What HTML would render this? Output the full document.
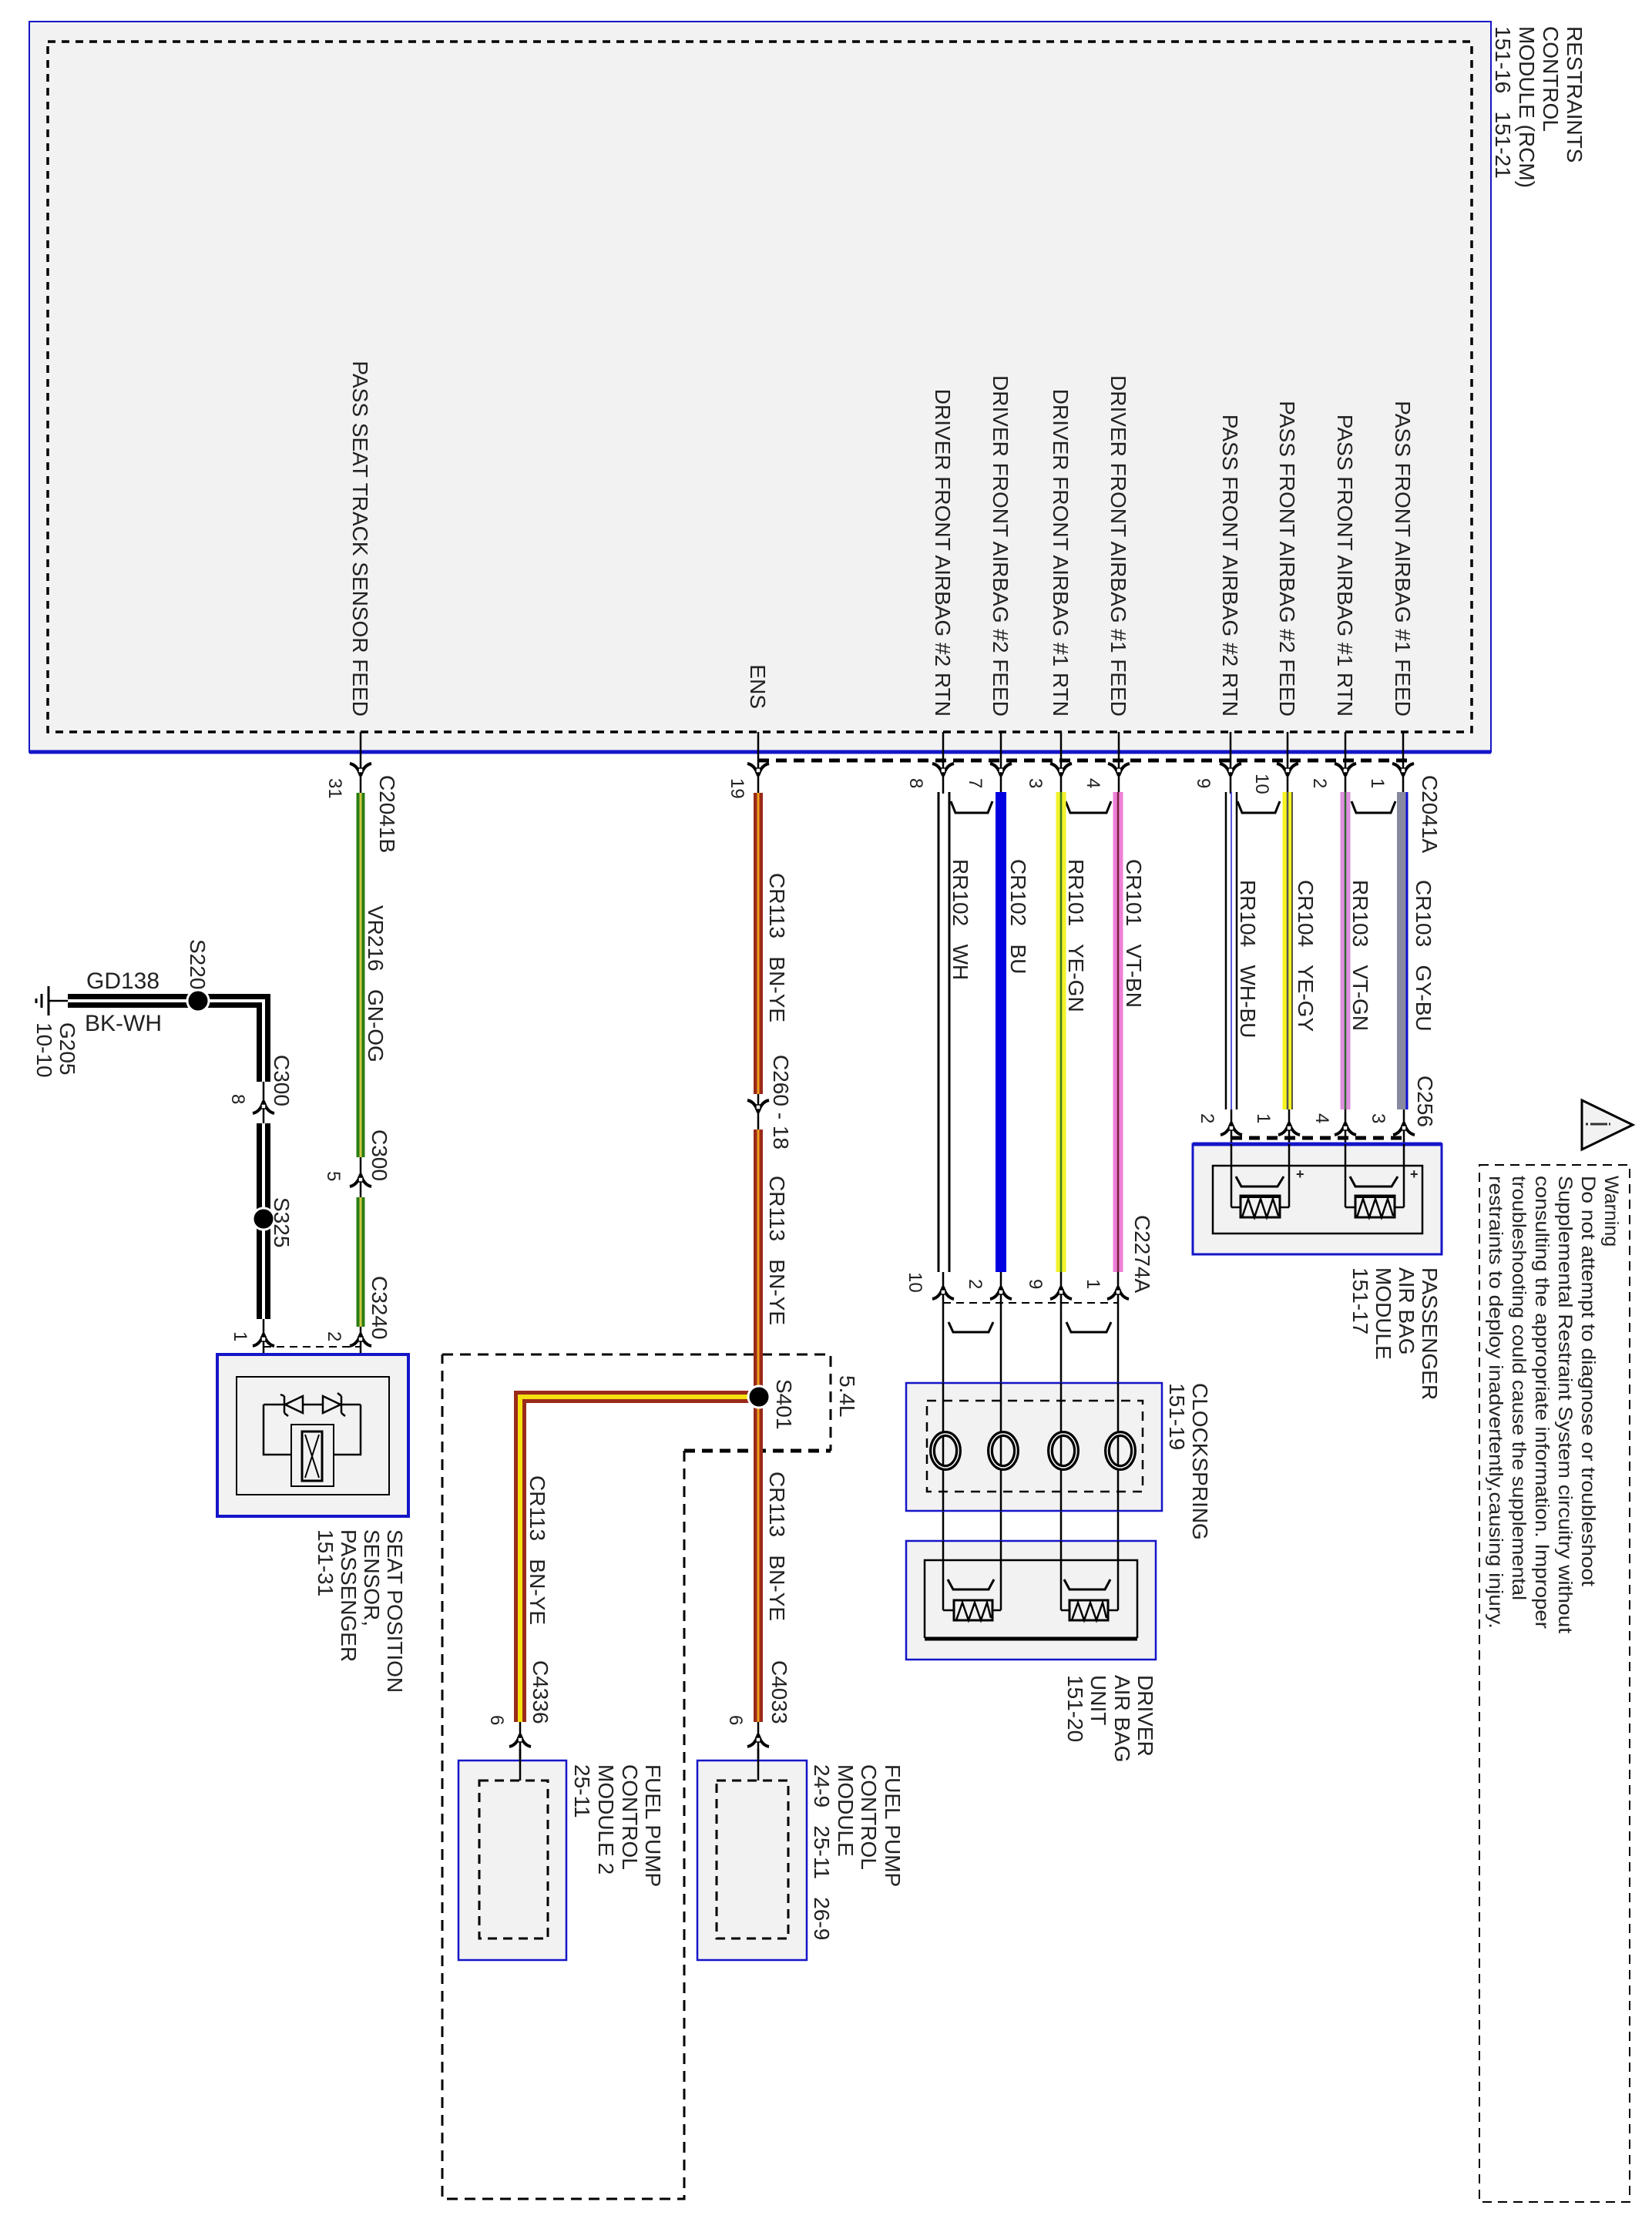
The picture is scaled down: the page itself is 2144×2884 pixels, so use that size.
<!DOCTYPE html>
<html><head><meta charset="utf-8">
<style>
html,body{margin:0;padding:0;background:#fff;}
svg{display:block;}
text{font-family:"Liberation Sans",Arial,sans-serif;fill:#222;white-space:pre;}
.l{font-size:28px;}
.p{font-size:24px;}
.w{font-size:25px;}
</style></head><body>
<svg width="2144" height="2884" viewBox="0 0 2144 2884" xmlns="http://www.w3.org/2000/svg" xml:space="preserve">
<defs>
<g id="dn"><path d="M-14,-10 Q-4,-8 0,6 M14,-10 Q4,-8 0,6" stroke="#000" stroke-width="4" fill="none"/><rect x="-3" y="-4" width="6" height="6" fill="#fff" stroke="#000" stroke-width="1.5"/></g>
<g id="up"><path d="M-14,10 Q-4,8 0,-6 M14,10 Q4,8 0,-6" stroke="#000" stroke-width="4" fill="none"/><rect x="-3" y="-2" width="6" height="6" fill="#fff" stroke="#000" stroke-width="1.5"/></g>
</defs>

<!-- RCM -->
<rect x="38" y="28" width="1897" height="948" fill="#f2f2f2" stroke="#1515c8" stroke-width="2"/>
<line x1="38" y1="976" x2="1935" y2="976" stroke="#1515c8" stroke-width="5"/>
<rect x="62" y="54" width="1848" height="896" fill="none" stroke="#000" stroke-width="3.5" stroke-dasharray="10,8"/>
<g class="l">
<text transform="translate(2034,34) rotate(90)">RESTRAINTS</text>
<text transform="translate(2003,34) rotate(90)">CONTROL</text>
<text transform="translate(1972,34) rotate(90)">MODULE (RCM)</text>
<text transform="translate(1941,34) rotate(90)">151-16   151-21</text>
</g>
<g class="l" text-anchor="end">
<text transform="translate(458,930) rotate(90)">PASS SEAT TRACK SENSOR FEED</text>
<text transform="translate(974,920) rotate(90)">ENS</text>
<text transform="translate(1214,930) rotate(90)">DRIVER FRONT AIRBAG #2 RTN</text>
<text transform="translate(1289,930) rotate(90)">DRIVER FRONT AIRBAG #2 FEED</text>
<text transform="translate(1367,930) rotate(90)">DRIVER FRONT AIRBAG #1 RTN</text>
<text transform="translate(1442,930) rotate(90)">DRIVER FRONT AIRBAG #1 FEED</text>
<text transform="translate(1587,930) rotate(90)">PASS FRONT AIRBAG #2 RTN</text>
<text transform="translate(1661,930) rotate(90)">PASS FRONT AIRBAG #2 FEED</text>
<text transform="translate(1736,930) rotate(90)">PASS FRONT AIRBAG #1 RTN</text>
<text transform="translate(1811,930) rotate(90)">PASS FRONT AIRBAG #1 FEED</text>
</g>
<g stroke="#000" stroke-width="2.5">
<line x1="468" y1="950" x2="468" y2="1030"/><line x1="984" y1="950" x2="984" y2="1030"/>
<line x1="1224" y1="950" x2="1224" y2="1030"/><line x1="1299" y1="950" x2="1299" y2="1030"/>
<line x1="1377" y1="950" x2="1377" y2="1030"/><line x1="1452" y1="950" x2="1452" y2="1030"/>
<line x1="1597" y1="950" x2="1597" y2="1030"/><line x1="1671" y1="950" x2="1671" y2="1030"/>
<line x1="1746" y1="950" x2="1746" y2="1030"/><line x1="1821" y1="950" x2="1821" y2="1030"/>
</g>
<line x1="984" y1="987" x2="1832" y2="987" stroke="#000" stroke-width="5" stroke-dasharray="14,9"/>
<g>
<use href="#dn" x="468" y="1001"/><use href="#dn" x="984" y="1001"/>
<use href="#dn" x="1224" y="1001"/><use href="#dn" x="1299" y="1001"/><use href="#dn" x="1377" y="1001"/><use href="#dn" x="1452" y="1001"/>
<use href="#dn" x="1597" y="1001"/><use href="#dn" x="1671" y="1001"/><use href="#dn" x="1746" y="1001"/><use href="#dn" x="1821" y="1001"/>
</g>
<g class="p">
<text transform="translate(427,1010) rotate(90)">31</text>
<text transform="translate(949,1010) rotate(90)">19</text>
<text transform="translate(1181,1010) rotate(90)">8</text>
<text transform="translate(1258,1010) rotate(90)">7</text>
<text transform="translate(1336,1010) rotate(90)">3</text>
<text transform="translate(1411,1010) rotate(90)">4</text>
<text transform="translate(1554,1010) rotate(90)">9</text>
<text transform="translate(1630,1004) rotate(90)">10</text>
<text transform="translate(1705,1010) rotate(90)">2</text>
<text transform="translate(1780,1010) rotate(90)">1</text>
</g>
<g class="l">
<text transform="translate(493,1006) rotate(90)">C2041B</text>
<text transform="translate(1846,1006) rotate(90)">C2041A</text>
</g>
<g stroke="#000" stroke-width="3" fill="none">
<path d="M1234,1040 L1240,1055 L1282,1055 L1288,1040"/>
<path d="M1383,1040 L1389,1055 L1436,1055 L1442,1040"/>
<path d="M1606,1040 L1612,1055 L1655,1055 L1661,1040"/>
<path d="M1754,1040 L1760,1055 L1805,1055 L1811,1040"/>
</g>

<!-- seat sensor wire -->
<g>
<line x1="468" y1="1029" x2="468" y2="1502" stroke="#2a7d14" stroke-width="11"/>
<line x1="468" y1="1029" x2="468" y2="1502" stroke="#d2c840" stroke-width="3"/>
<line x1="468" y1="1554" x2="468" y2="1722" stroke="#2a7d14" stroke-width="11"/>
<line x1="468" y1="1554" x2="468" y2="1722" stroke="#d2c840" stroke-width="3"/>
<line x1="468" y1="1502" x2="468" y2="1554" stroke="#000" stroke-width="2.5"/>
<line x1="468" y1="1722" x2="468" y2="1888" stroke="#000" stroke-width="2.5"/>
<use href="#up" x="468" y="1530"/><use href="#up" x="468" y="1737"/>
</g>
<g class="l">
<text transform="translate(478,1175) rotate(90)">VR216   GN-OG</text>
<text transform="translate(483,1466) rotate(90)">C300</text>
<text transform="translate(483,1656) rotate(90)">C3240</text>
</g>
<g class="p">
<text transform="translate(425,1520) rotate(90)">5</text>
<text transform="translate(426,1728) rotate(90)">2</text>
<text transform="translate(304,1728) rotate(90)">1</text>
<text transform="translate(301,1420) rotate(90)">8</text>
</g>

<!-- ground wire -->
<g>
<line x1="63" y1="1280" x2="63" y2="1318" stroke="#000" stroke-width="3"/>
<line x1="54" y1="1290" x2="54" y2="1308" stroke="#000" stroke-width="3"/>
<line x1="47" y1="1296" x2="47" y2="1302" stroke="#000" stroke-width="3"/>
<line x1="63" y1="1299" x2="90" y2="1299" stroke="#000" stroke-width="2.5"/>
<path d="M88,1299 H342 V1404" stroke="#000" stroke-width="18" fill="none"/>
<path d="M88,1299 H342 V1404" stroke="#fff" stroke-width="4" fill="none"/>
<line x1="342" y1="1458" x2="342" y2="1712" stroke="#000" stroke-width="18"/>
<line x1="342" y1="1458" x2="342" y2="1712" stroke="#fff" stroke-width="4"/>
<line x1="342" y1="1404" x2="342" y2="1458" stroke="#000" stroke-width="2.5"/>
<line x1="342" y1="1712" x2="342" y2="1888" stroke="#000" stroke-width="2.5"/>
<circle cx="257" cy="1299" r="14" fill="#000" stroke="#fff" stroke-width="3"/>
<circle cx="342" cy="1582" r="14" fill="#000" stroke="#fff" stroke-width="3"/>
<use href="#up" x="342" y="1435"/><use href="#up" x="342" y="1737"/>
</g>
<text x="112" y="1283" style="font-size:30px">GD138</text>
<text x="110" y="1338" style="font-size:30px">BK-WH</text>
<g class="l">
<text transform="translate(247,1219) rotate(90)">S220</text>
<text transform="translate(78,1327) rotate(90)">G205</text>
<text transform="translate(48,1327) rotate(90)">10-10</text>
<text transform="translate(356,1369) rotate(90)">C300</text>
<text transform="translate(356,1554) rotate(90)">S325</text>
</g>
<line x1="342" y1="1748" x2="468" y2="1748" stroke="#000" stroke-width="2" stroke-dasharray="10,7"/>

<!-- seat sensor box -->
<rect x="282" y="1758" width="248" height="210" fill="#f2f2f2" stroke="#1515c8" stroke-width="4"/>
<rect x="307" y="1787" width="198" height="153" fill="none" stroke="#000" stroke-width="2"/>
<g stroke="#000" stroke-width="2.5" fill="none">
<path d="M342,1823 H468"/>
<path d="M342,1823 V1888 H378"/><path d="M468,1823 V1888 H433"/>
<rect x="378" y="1849" width="55" height="80" fill="#f2f2f2" stroke-width="2"/>
<rect x="392" y="1858" width="26" height="64" stroke-width="3"/>
<path d="M396,1862 L414,1918 M414,1862 L396,1918" stroke-width="2"/>
<path d="M370,1823 L393,1812 L393,1834 Z" fill="#f2f2f2"/><path d="M369,1812 V1834 M364,1810 L369,1812 M369,1834 L374,1838"/>
<path d="M442,1823 L419,1812 L419,1834 Z" fill="#f2f2f2"/><path d="M443,1812 V1834 M443,1812 L438,1808 M443,1834 L448,1838"/>
</g>
<g class="l">
<text transform="translate(503,1985) rotate(90)">SEAT POSITION</text>
<text transform="translate(473,1985) rotate(90)">SENSOR,</text>
<text transform="translate(443,1985) rotate(90)">PASSENGER</text>
<text transform="translate(413,1985) rotate(90)">151-31</text>
</g>

<!-- 5.4L dashed region -->
<path d="M574,1758 H1078 V1883 M888,1883 V2854 H574 V1758" fill="none" stroke="#000" stroke-width="3" stroke-dasharray="14,9"/>
<line x1="888" y1="1883" x2="1078" y2="1883" stroke="#000" stroke-width="5" stroke-dasharray="14,9"/>

<!-- ENS wire -->
<g>
<line x1="984" y1="1029" x2="984" y2="1420" stroke="#9a2a1a" stroke-width="12"/>
<line x1="984" y1="1029" x2="984" y2="1420" stroke="#f0a020" stroke-width="3"/>
<line x1="984" y1="1420" x2="984" y2="1466" stroke="#000" stroke-width="2.5"/>
<use href="#dn" x="984" y="1438"/>
<line x1="984" y1="1466" x2="984" y2="2235" stroke="#9a2a1a" stroke-width="12"/>
<line x1="984" y1="1466" x2="984" y2="2235" stroke="#f0a020" stroke-width="3"/>
<path d="M972,1813 H675 V2235" stroke="#9a2a1a" stroke-width="16" fill="none"/>
<path d="M972,1813 H675 V2235" stroke="#f5e010" stroke-width="6" fill="none"/>
<circle cx="985" cy="1813" r="14" fill="#000" stroke="#fff" stroke-width="3"/>
<line x1="984" y1="2235" x2="984" y2="2320" stroke="#000" stroke-width="2.5"/>
<line x1="675" y1="2235" x2="675" y2="2320" stroke="#000" stroke-width="2.5"/>
<use href="#up" x="984" y="2257"/><use href="#up" x="675" y="2257"/>
</g>
<g class="l">
<text transform="translate(999,1133) rotate(90)">CR113   BN-YE</text>
<text transform="translate(1004,1369) rotate(90)">C260 - 18</text>
<text transform="translate(999,1526) rotate(90)">CR113   BN-YE</text>
<text transform="translate(1008,1790) rotate(90)">S401</text>
<text transform="translate(1090,1785) rotate(90)">5.4L</text>
<text transform="translate(999,1910) rotate(90)">CR113   BN-YE</text>
<text transform="translate(1002,2155) rotate(90)">C4033</text>
<text transform="translate(688,1915) rotate(90)">CR113   BN-YE</text>
<text transform="translate(692,2155) rotate(90)">C4336</text>
</g>
<g class="p">
<text transform="translate(947,2226) rotate(90)">6</text>
<text transform="translate(637,2226) rotate(90)">6</text>
</g>
<rect x="595" y="2285" width="140" height="259" fill="#f2f2f2" stroke="#1515c8" stroke-width="2.5"/>
<rect x="622" y="2311" width="89" height="205" fill="none" stroke="#000" stroke-width="3" stroke-dasharray="12,8"/>
<rect x="905" y="2285" width="142" height="259" fill="#f2f2f2" stroke="#1515c8" stroke-width="2.5"/>
<rect x="930" y="2311" width="93" height="205" fill="none" stroke="#000" stroke-width="3" stroke-dasharray="12,8"/>
<line x1="675" y1="2270" x2="675" y2="2311" stroke="#000" stroke-width="2.5"/>
<line x1="984" y1="2270" x2="984" y2="2311" stroke="#000" stroke-width="2.5"/>
<g class="l">
<text transform="translate(838,2290) rotate(90)">FUEL PUMP</text>
<text transform="translate(808,2290) rotate(90)">CONTROL</text>
<text transform="translate(777,2290) rotate(90)">MODULE 2</text>
<text transform="translate(746,2290) rotate(90)">25-11</text>
<text transform="translate(1149,2290) rotate(90)">FUEL PUMP</text>
<text transform="translate(1118,2290) rotate(90)">CONTROL</text>
<text transform="translate(1088,2290) rotate(90)">MODULE</text>
<text transform="translate(1057,2290) rotate(90)">24-9   25-11   26-9</text>
</g>

<!-- driver wires -->
<g>
<line x1="1218" y1="1028" x2="1218" y2="1651" stroke="#000" stroke-width="3"/>
<line x1="1232" y1="1028" x2="1232" y2="1651" stroke="#000" stroke-width="3"/>
<line x1="1299" y1="1028" x2="1299" y2="1651" stroke="#0000e0" stroke-width="14"/>
<line x1="1377" y1="1028" x2="1377" y2="1651" stroke="#f2f22a" stroke-width="13"/>
<line x1="1377" y1="1028" x2="1377" y2="1651" stroke="#3a7a1a" stroke-width="2.5"/>
<line x1="1451" y1="1028" x2="1451" y2="1651" stroke="#ee80d8" stroke-width="13"/>
<line x1="1451" y1="1028" x2="1451" y2="1651" stroke="#7a2040" stroke-width="2.5"/>
</g>
<g class="l">
<text transform="translate(1237,1115) rotate(90)">RR102   WH</text>
<text transform="translate(1312,1115) rotate(90)">CR102   BU</text>
<text transform="translate(1387,1115) rotate(90)">RR101   YE-GN</text>
<text transform="translate(1462,1115) rotate(90)">CR101   VT-BN</text>
<text transform="translate(1473,1577) rotate(90)">C2274A</text>
</g>
<g class="p">
<text transform="translate(1180,1651) rotate(90)">10</text>
<text transform="translate(1258,1660) rotate(90)">2</text>
<text transform="translate(1336,1660) rotate(90)">9</text>
<text transform="translate(1411,1660) rotate(90)">1</text>
</g>
<g stroke="#000" stroke-width="2.5" fill="none">
<line x1="1224" y1="1651" x2="1224" y2="2090"/>
<line x1="1299" y1="1651" x2="1299" y2="2090"/>
<line x1="1377" y1="1651" x2="1377" y2="2090"/>
<line x1="1451" y1="1651" x2="1451" y2="2090"/>
</g>
<use href="#up" x="1224" y="1676"/><use href="#up" x="1299" y="1676"/><use href="#up" x="1377" y="1676"/><use href="#up" x="1451" y="1676"/>
<line x1="1224" y1="1691" x2="1451" y2="1691" stroke="#000" stroke-width="2" stroke-dasharray="10,7"/>
<g stroke="#000" stroke-width="3" fill="none">
<path d="M1231,1716 L1237,1729 L1283,1729 L1289,1716"/>
<path d="M1384,1716 L1390,1729 L1436,1729 L1442,1716"/>
</g>
<rect x="1176" y="1795" width="332" height="166" fill="#f2f2f2" stroke="#1515c8" stroke-width="2.5"/>
<rect x="1203" y="1818" width="280" height="118" fill="none" stroke="#000" stroke-width="2.5" stroke-dasharray="12,9"/>
<g stroke="#000" stroke-width="2.5" fill="none">
<line x1="1224" y1="1795" x2="1224" y2="1961"/><line x1="1299" y1="1795" x2="1299" y2="1961"/>
<line x1="1377" y1="1795" x2="1377" y2="1961"/><line x1="1451" y1="1795" x2="1451" y2="1961"/>
</g>
<g fill="none">
<ellipse cx="1227" cy="1883" rx="17" ry="22" stroke="#000" stroke-width="8"/><ellipse cx="1227" cy="1883" rx="17" ry="22" stroke="#fff" stroke-width="1.5"/>
<ellipse cx="1302" cy="1883" rx="17" ry="22" stroke="#000" stroke-width="8"/><ellipse cx="1302" cy="1883" rx="17" ry="22" stroke="#fff" stroke-width="1.5"/>
<ellipse cx="1380" cy="1883" rx="17" ry="22" stroke="#000" stroke-width="8"/><ellipse cx="1380" cy="1883" rx="17" ry="22" stroke="#fff" stroke-width="1.5"/>
<ellipse cx="1454" cy="1883" rx="17" ry="22" stroke="#000" stroke-width="8"/><ellipse cx="1454" cy="1883" rx="17" ry="22" stroke="#fff" stroke-width="1.5"/>
</g>
<g class="l">
<text transform="translate(1548,1795) rotate(90)">CLOCKSPRING</text>
<text transform="translate(1518,1795) rotate(90)">151-19</text>
</g>
<rect x="1176" y="2000" width="324" height="154" fill="#f2f2f2" stroke="#1515c8" stroke-width="2.5"/>
<path d="M1200,2126 V2025 H1476 V2126" fill="none" stroke="#000" stroke-width="2.5"/>
<line x1="1200" y1="2127" x2="1476" y2="2127" stroke="#000" stroke-width="5"/>
<g stroke="#000" fill="none">
<line x1="1224" y1="2000" x2="1224" y2="2090" stroke-width="2.5"/>
<line x1="1299" y1="2000" x2="1299" y2="2090" stroke-width="2.5"/>
<line x1="1377" y1="2000" x2="1377" y2="2090" stroke-width="2.5"/>
<line x1="1451" y1="2000" x2="1451" y2="2090" stroke-width="2.5"/>
<path d="M1224,2090 H1238 M1288,2090 H1299 M1377,2090 H1388 M1438,2090 H1451" stroke-width="2.5"/>
<rect x="1238" y="2077" width="50" height="26" stroke-width="3"/>
<rect x="1388" y="2077" width="50" height="26" stroke-width="3"/>
<path d="M1241,2103 L1249,2080 L1257,2103 L1265,2080 L1273,2103 L1281,2080 L1286,2100" stroke-width="2.5"/>
<path d="M1391,2103 L1399,2080 L1407,2103 L1415,2080 L1423,2103 L1431,2080 L1436,2100" stroke-width="2.5"/>
<path d="M1230,2050 L1237,2063 L1283,2063 L1290,2050" stroke-width="3"/>
<path d="M1381,2050 L1388,2063 L1434,2063 L1441,2050" stroke-width="3"/>
</g>
<g class="l">
<text transform="translate(1477,2174) rotate(90)">DRIVER</text>
<text transform="translate(1447,2174) rotate(90)">AIR BAG</text>
<text transform="translate(1416,2174) rotate(90)">UNIT</text>
<text transform="translate(1386,2174) rotate(90)">151-20</text>
</g>

<!-- passenger wires -->
<g>
<line x1="1591" y1="1028" x2="1591" y2="1440" stroke="#000" stroke-width="2.5"/>
<line x1="1598" y1="1028" x2="1598" y2="1440" stroke="#2020d0" stroke-width="1.5"/>
<line x1="1605" y1="1028" x2="1605" y2="1440" stroke="#000" stroke-width="2.5"/>
<line x1="1671" y1="1028" x2="1671" y2="1440" stroke="#f5f520" stroke-width="13"/>
<line x1="1671" y1="1028" x2="1671" y2="1440" stroke="#555" stroke-width="2.5"/>
<line x1="1677" y1="1028" x2="1677" y2="1440" stroke="#222" stroke-width="1.5"/>
<line x1="1746" y1="1028" x2="1746" y2="1440" stroke="#e090e0" stroke-width="13"/>
<line x1="1746" y1="1028" x2="1746" y2="1440" stroke="#336633" stroke-width="2.5"/>
<line x1="1819" y1="1028" x2="1819" y2="1440" stroke="#8888a0" stroke-width="12"/>
<line x1="1826" y1="1028" x2="1826" y2="1440" stroke="#1010d0" stroke-width="3"/>
</g>
<g class="l">
<text transform="translate(1610,1142) rotate(90)">RR104   WH-BU</text>
<text transform="translate(1685,1142) rotate(90)">CR104   YE-GY</text>
<text transform="translate(1756,1142) rotate(90)">RR103   VT-GN</text>
<text transform="translate(1838,1142) rotate(90)">CR103   GY-BU</text>
<text transform="translate(1840,1396) rotate(90)">C256</text>
</g>
<g class="p">
<text transform="translate(1559,1445) rotate(90)">2</text>
<text transform="translate(1632,1445) rotate(90)">1</text>
<text transform="translate(1708,1445) rotate(90)">4</text>
<text transform="translate(1781,1445) rotate(90)">3</text>
</g>
<g stroke="#000" stroke-width="2.5" fill="none">
<line x1="1598" y1="1440" x2="1598" y2="1567"/><line x1="1673" y1="1440" x2="1673" y2="1567"/>
<line x1="1746" y1="1440" x2="1746" y2="1567"/><line x1="1822" y1="1440" x2="1822" y2="1567"/>
</g>
<use href="#up" x="1598" y="1463"/><use href="#up" x="1673" y="1463"/><use href="#up" x="1746" y="1463"/><use href="#up" x="1822" y="1463"/>
<line x1="1598" y1="1477" x2="1822" y2="1477" stroke="#000" stroke-width="5" stroke-dasharray="14,9"/>
<rect x="1548" y="1485" width="323" height="143" fill="#f2f2f2" stroke="#1515c8" stroke-width="3"/>
<line x1="1548" y1="1485" x2="1871" y2="1485" stroke="#1515c8" stroke-width="5"/>
<rect x="1574" y="1513" width="272" height="88" fill="none" stroke="#000" stroke-width="2.5"/>
<g stroke="#000" fill="none">
<line x1="1598" y1="1485" x2="1598" y2="1567" stroke-width="2.5"/>
<line x1="1673" y1="1485" x2="1673" y2="1567" stroke-width="2.5"/>
<line x1="1746" y1="1485" x2="1746" y2="1567" stroke-width="2.5"/>
<line x1="1822" y1="1485" x2="1822" y2="1567" stroke-width="2.5"/>
<path d="M1598,1567 H1610 M1661,1567 H1673 M1746,1567 H1759 M1810,1567 H1822" stroke-width="2.5"/>
<rect x="1610" y="1552" width="51" height="28" stroke-width="3"/>
<line x1="1610" y1="1553" x2="1661" y2="1553" stroke-width="4"/>
<rect x="1759" y="1552" width="51" height="28" stroke-width="3"/>
<line x1="1759" y1="1553" x2="1810" y2="1553" stroke-width="4"/>
<path d="M1612,1580 L1620,1556 L1628,1580 L1636,1556 L1644,1580 L1652,1556 L1659,1578" stroke-width="2.5"/>
<path d="M1761,1580 L1769,1556 L1777,1580 L1785,1556 L1793,1580 L1801,1556 L1808,1578" stroke-width="2.5"/>
<path d="M1604,1527 L1611,1540 L1658,1540 L1666,1527" stroke-width="3"/>
<path d="M1752,1527 L1759,1540 L1806,1540 L1814,1527" stroke-width="3"/>
</g>
<text x="1682" y="1530" style="font-size:18px;font-weight:bold">+</text>
<text x="1830" y="1530" style="font-size:18px;font-weight:bold">+</text>
<g class="l">
<text transform="translate(1846,1645) rotate(90)">PASSENGER</text>
<text transform="translate(1816,1645) rotate(90)">AIR BAG</text>
<text transform="translate(1786,1645) rotate(90)">MODULE</text>
<text transform="translate(1756,1645) rotate(90)">151-17</text>
</g>

<!-- warning -->
<path d="M2053,1428 L2119,1460 L2053,1492 Z" fill="#f2f2f2" stroke="#000" stroke-width="3"/>
<line x1="2058" y1="1459" x2="2090" y2="1459" stroke="#333" stroke-width="3" stroke-dasharray="3,3,22,2"/>
<rect x="1920" y="1512" width="195" height="1346" fill="none" stroke="#000" stroke-width="2" stroke-dasharray="12,8"/>
<g class="w">
<text transform="translate(2083,1526) rotate(90)">Warning</text>
<text transform="translate(2053,1526) rotate(90)" textLength="533" lengthAdjust="spacingAndGlyphs">Do not attempt to diagnose or troubleshoot</text>
<text transform="translate(2023,1526) rotate(90)" textLength="594" lengthAdjust="spacingAndGlyphs">Supplemental Restraint System circuitry without</text>
<text transform="translate(1993,1526) rotate(90)" textLength="588" lengthAdjust="spacingAndGlyphs">consulting the appropriate information. Improper</text>
<text transform="translate(1963,1526) rotate(90)" textLength="551" lengthAdjust="spacingAndGlyphs">troubleshooting could cause the supplemental</text>
<text transform="translate(1933,1526) rotate(90)" textLength="588" lengthAdjust="spacingAndGlyphs">restraints to deploy inadvertently,causing injury.</text>
</g>
</svg>
</body></html>
